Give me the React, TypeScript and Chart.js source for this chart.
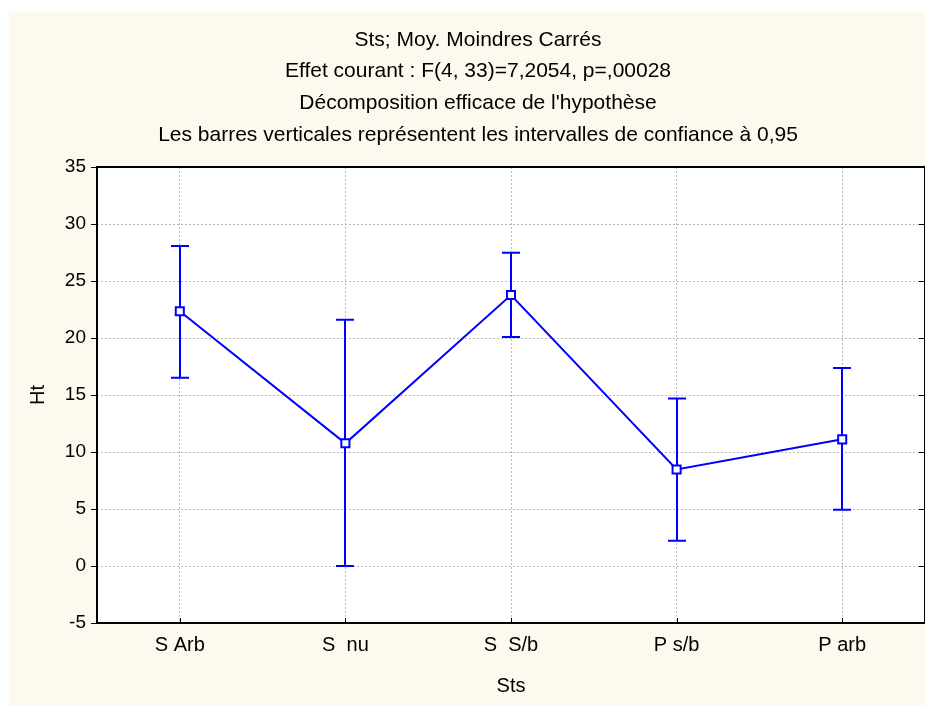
import React, { useEffect, useRef } from "react";
import { Chart, registerables } from "chart.js";

Chart.register(...registerables);

const categories = ["S Arb", "S  nu", "S  S/b", "P s/b", "P arb"];
const means = [22.34, 10.76, 23.77, 8.47, 11.11];
const upper = [28.07, 21.6, 27.48, 14.7, 17.37];
const lower = [16.52, 0.0, 20.09, 2.22, 4.94];
const yTicks = [-5, 0, 5, 10, 15, 20, 25, 30, 35];
const titleLines = [
  "Sts; Moy. Moindres Carrés",
  "Effet courant : F(4, 33)=7,2054, p=,00028",
  "Décomposition efficace de l'hypothèse",
  "Les barres verticales représentent les intervalles de confiance à 0,95",
];
const xTitle = "Sts";
const yTitle = "Ht";

const FONT = "Liberation Sans, Arial, sans-serif";
const BLUE = "#0000ff";
const CREAM = "#fef9ee";

const decorPlugin = {
  id: "decor",
  beforeDraw(chart: any) {
    const { ctx, width, height, chartArea } = chart;
    ctx.save();
    ctx.fillStyle = CREAM;
    ctx.fillRect(0, 0, width, height);
    ctx.fillStyle = "#ffffff";
    ctx.fillRect(
      chartArea.left,
      chartArea.top,
      chartArea.right - chartArea.left,
      chartArea.bottom - chartArea.top
    );
    ctx.restore();
  },
  beforeDatasetsDraw(chart: any) {
    const { ctx } = chart;
    const x = chart.scales.x;
    const y = chart.scales.y;
    ctx.save();
    ctx.strokeStyle = BLUE;
    ctx.lineWidth = 2;
    const cap = 9;
    for (let i = 0; i < means.length; i++) {
      const px = Math.round(x.getPixelForValue(i));
      const yu = y.getPixelForValue(upper[i]);
      const yl = y.getPixelForValue(lower[i]);
      ctx.beginPath();
      ctx.moveTo(px, yu);
      ctx.lineTo(px, yl);
      ctx.moveTo(px - cap, yu);
      ctx.lineTo(px + cap, yu);
      ctx.moveTo(px - cap, yl);
      ctx.lineTo(px + cap, yl);
      ctx.stroke();
    }
    ctx.restore();
  },
  afterDraw(chart: any) {
    const { ctx, chartArea } = chart;
    const x = chart.scales.x;
    const y = chart.scales.y;
    ctx.save();
    // frame
    ctx.strokeStyle = "#000000";
    ctx.lineWidth = 2;
    ctx.strokeRect(
      chartArea.left,
      chartArea.top,
      chartArea.right - chartArea.left,
      chartArea.bottom - chartArea.top
    );
    // right inward ticks
    ctx.lineWidth = 1;
    ctx.beginPath();
    for (const v of yTicks) {
      const py = Math.round(y.getPixelForValue(v)) + 0.5;
      ctx.moveTo(chartArea.right - 6, py);
      ctx.lineTo(chartArea.right, py);
    }
    // bottom inward ticks
    for (let i = 0; i < categories.length; i++) {
      const px = Math.round(x.getPixelForValue(i)) + 0.5;
      ctx.moveTo(px, chartArea.bottom);
      ctx.lineTo(px, chartArea.bottom - 5);
    }
    ctx.stroke();
    // titles
    ctx.fillStyle = "#000000";
    ctx.textAlign = "center";
    ctx.textBaseline = "middle";
    ctx.font = "21px " + FONT;
    const tx = 469;
    titleLines.forEach((t, i) => {
      ctx.fillText(t, tx, 28 + i * 31.7);
    });
    // axis titles
    ctx.font = "20px " + FONT;
    ctx.fillText(xTitle, (chartArea.left + chartArea.right) / 2, 674);
    ctx.translate(29, (chartArea.top + chartArea.bottom) / 2);
    ctx.rotate(-Math.PI / 2);
    ctx.fillText(yTitle, 0, 0);
    ctx.restore();
  },
};

export default function App() {
  const ref = useRef<HTMLCanvasElement>(null);
  useEffect(() => {
    if (!ref.current) return;
    const chart = new Chart(ref.current, {
      type: "line",
      data: {
        labels: categories,
        datasets: [
          {
            data: means,
            borderColor: BLUE,
            borderWidth: 2,
            pointStyle: "rect",
            pointRadius: 5.7,
            pointBorderWidth: 2,
            pointBackgroundColor: "#ffffff",
            pointBorderColor: BLUE,
            tension: 0,
          },
        ],
      },
      options: {
        animation: false,
        responsive: false,
        devicePixelRatio: 1,
        layout: { padding: { top: 155, right: 8, left: 0, bottom: 0 } },
        plugins: {
          legend: { display: false },
          title: { display: false },
          tooltip: { enabled: false },
        },
        scales: {
          x: {
            type: "category",
            offset: true,
            grid: {
              offset: false,
              drawTicks: false,
              color: "#b8b8b8",
              lineWidth: 1,
            },
            border: { display: false, dash: [2, 2] },
            ticks: {
              color: "#000000",
              font: { family: FONT, size: 20 },
              padding: 10,
              maxRotation: 0,
              autoSkip: false,
            },
            afterFit(scale: any) {
              scale.height = 83;
            },
          },
          y: {
            min: -5,
            max: 35,
            afterBuildTicks(scale: any) {
              scale.ticks = yTicks.map((v) => ({ value: v }));
            },
            grid: {
              color: "#b8b8b8",
              lineWidth: 1,
              drawTicks: true,
              tickLength: 6,
              tickColor: "#000000",
              tickWidth: 1,
            },
            border: { display: false, dash: [2, 2] },
            ticks: {
              color: "#000000",
              font: { family: FONT, size: 19 },
              padding: 5,
            },
            afterFit(scale: any) {
              scale.width = 88;
            },
          },
        },
      },
      plugins: [decorPlugin],
    } as any);
    return () => chart.destroy();
  }, []);
  return (
    <div style={{ paddingTop: 4, paddingLeft: 1 }}>
      <canvas ref={ref} width={924} height={694} style={{ display: "block" }} />
    </div>
  );
}
